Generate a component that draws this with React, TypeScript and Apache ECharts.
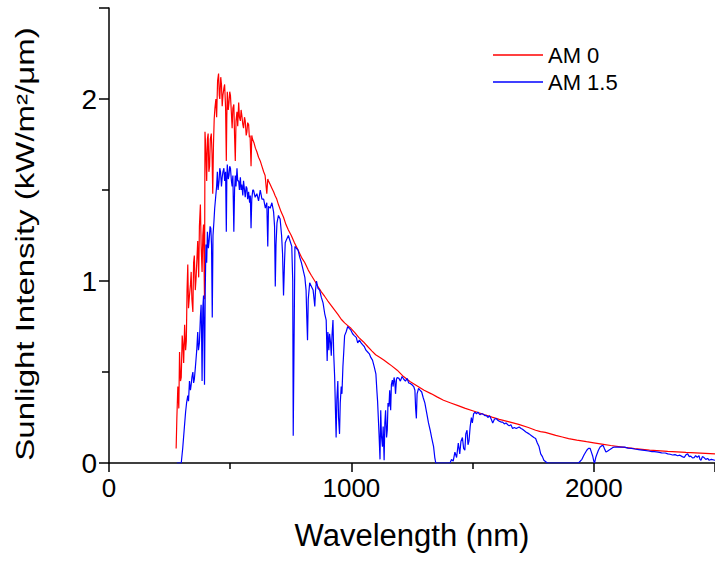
import React, { useEffect, useRef } from "react";
import * as echarts from "echarts";

const FONT = "'Liberation Sans', Arial, Helvetica, sans-serif";

const seriesNames = ["AM 0", "AM 1.5"];
const xTickValues = [0, 1000, 2000];
const yTickValues = [0, 1, 2];

const am0Wavelength = [
  277, 280, 284, 288, 291, 295, 298, 302, 305, 308, 312, 316, 319, 322, 325, 328, 332, 336, 339, 342,
  346, 349, 352, 356, 359, 362, 366, 370, 373, 377, 380, 384, 387, 390, 394, 396, 400, 403, 406, 409,
  412, 415, 418, 422, 425, 428, 431, 434, 437, 441, 444, 448, 452, 455, 457, 461, 464, 467, 470, 474,
  477, 481, 484, 486, 488, 492, 495, 498, 501, 505, 508, 511, 515, 518, 521, 524, 528, 531, 535, 538,
  542, 545, 548, 552, 555, 559, 562, 566, 569, 572, 576, 579, 582, 586, 589, 592, 598, 604, 610, 617,
  624, 631, 638, 644, 651, 655, 658, 665, 672, 679, 685, 692, 699, 710, 720, 730, 740, 752, 765, 780,
  794, 808, 822, 835, 849, 862, 876, 890, 903, 917, 931, 945, 958, 972, 985, 998, 1015, 1030, 1050, 1067,
  1085, 1100, 1118, 1135, 1150, 1165, 1189, 1215, 1243, 1270, 1300, 1330, 1355, 1380, 1410, 1440, 1470, 1500, 1516, 1550,
  1580, 1610, 1651, 1690, 1730, 1760, 1780, 1800, 1843, 1870, 1896, 1930, 1970, 2000, 2033, 2070, 2110, 2169, 2230, 2305,
  2380, 2440, 2500,
];
const am0Value = [
  0.08, 0.25, 0.42, 0.3, 0.61, 0.45, 0.47, 0.7, 0.65, 0.55, 0.76, 0.62, 0.67, 0.95, 1.09, 0.85, 0.92, 0.98, 1.05, 0.9,
  0.83, 1.1, 1.14, 0.95, 1.01, 1.1, 1.22, 1.02, 1.3, 1.42, 1.2, 1.05, 1.25, 1.31, 0.9, 1.82, 1.7, 1.55, 1.78, 1.81,
  1.6, 1.63, 1.78, 1.81, 1.7, 1.48, 1.75, 1.89, 1.95, 2.0, 1.9, 2.1, 2.14, 2.02, 2.0, 2.12, 2.08, 1.96, 2.02, 2.06,
  2.08, 1.95, 1.66, 1.9, 2.04, 1.94, 1.98, 2.04, 2.02, 1.92, 1.84, 1.95, 1.97, 1.8, 1.66, 1.88, 1.93, 1.85, 1.98, 1.9,
  1.88, 1.94, 1.91, 1.86, 1.84, 1.9, 1.88, 1.8, 1.82, 1.87, 1.86, 1.79, 1.8, 1.63, 1.8, 1.78, 1.76, 1.73, 1.71, 1.68,
  1.66, 1.63, 1.6, 1.58, 1.48, 1.56, 1.55, 1.53, 1.51, 1.49, 1.47, 1.45, 1.42, 1.38, 1.35, 1.31, 1.28, 1.25, 1.21, 1.17,
  1.13, 1.1, 1.06, 1.03, 1.0, 0.97, 0.94, 0.915, 0.89, 0.865, 0.84, 0.815, 0.79, 0.77, 0.755, 0.74, 0.715, 0.69, 0.665, 0.64,
  0.615, 0.595, 0.58, 0.565, 0.55, 0.535, 0.51, 0.475, 0.446, 0.425, 0.4, 0.38, 0.362, 0.345, 0.33, 0.315, 0.3, 0.287, 0.28, 0.265,
  0.252, 0.24, 0.226, 0.212, 0.195, 0.18, 0.172, 0.168, 0.152, 0.143, 0.134, 0.126, 0.117, 0.111, 0.104, 0.096, 0.089, 0.079, 0.071, 0.064,
  0.058, 0.054, 0.05,
];

const am15Wavelength = [
  280, 298, 304, 310, 316, 320, 325, 328, 332, 336, 339, 342, 346, 349, 352, 356, 359, 362, 366, 369,
  373, 377, 380, 382, 384, 387, 390, 392, 394, 397, 400, 403, 406, 410, 413, 417, 420, 423, 426, 429,
  433, 436, 440, 444, 447, 450, 454, 457, 460, 464, 467, 470, 474, 477, 481, 484, 486, 488, 492, 495,
  498, 501, 505, 508, 511, 515, 518, 521, 524, 528, 531, 535, 538, 542, 545, 548, 552, 555, 559, 562,
  566, 569, 572, 576, 580, 583, 586, 589, 593, 596, 603, 610, 617, 624, 631, 638, 645, 651, 655, 658,
  665, 672, 679, 683, 686, 689, 693, 699, 706, 712, 716, 720, 724, 727, 733, 740, 747, 754, 758, 760,
  763, 767, 773, 780, 787, 794, 801, 808, 813, 816, 819, 822, 828, 835, 842, 846, 849, 852, 856, 862,
  869, 876, 883, 890, 896, 900, 903, 907, 910, 914, 917, 920, 924, 927, 931, 934, 937, 940, 944, 947,
  951, 954, 958, 961, 965, 968, 972, 978, 985, 991, 998, 1005, 1012, 1020, 1026, 1033, 1040, 1046, 1053, 1060,
  1067, 1074, 1080, 1087, 1094, 1101, 1105, 1108, 1111, 1114, 1118, 1121, 1124, 1128, 1131, 1135, 1138, 1141, 1145, 1148,
  1151, 1155, 1158, 1162, 1165, 1169, 1172, 1176, 1179, 1182, 1186, 1189, 1196, 1202, 1209, 1216, 1223, 1230, 1236, 1243,
  1250, 1257, 1262, 1265, 1268, 1271, 1277, 1283, 1290, 1296, 1303, 1310, 1318, 1325, 1331, 1339, 1344, 1348, 1407, 1413,
  1420, 1427, 1434, 1441, 1447, 1452, 1458, 1463, 1468, 1472, 1477, 1481, 1485, 1490, 1495, 1499, 1504, 1510, 1516, 1522,
  1530, 1536, 1542, 1550, 1556, 1563, 1570, 1577, 1583, 1590, 1597, 1604, 1610, 1617, 1624, 1631, 1638, 1645, 1651, 1658,
  1665, 1672, 1680, 1692, 1700, 1706, 1720, 1733, 1743, 1753, 1760, 1767, 1774, 1781, 1788, 1794, 1808, 1937, 1951, 1960,
  1971, 1978, 1985, 1990, 1995, 2000, 2003, 2008, 2012, 2019, 2026, 2033, 2039, 2045, 2050, 2056, 2062, 2068, 2073, 2080,
  2087, 2100, 2114, 2127, 2141, 2155, 2169, 2185, 2200, 2210, 2225, 2240, 2250, 2265, 2280, 2295, 2305, 2315, 2325, 2335,
  2346, 2355, 2365, 2373, 2380, 2387, 2394, 2400, 2407, 2414, 2420, 2427, 2434, 2438, 2442, 2448, 2455, 2462, 2470, 2475,
  2485, 2500,
];
const am15Value = [
  0, 0, 0.08, 0.18, 0.28, 0.33, 0.37, 0.34, 0.45, 0.4, 0.43, 0.47, 0.5, 0.44, 0.46, 0.52, 0.57, 0.62, 0.72, 0.62,
  0.66, 0.8, 0.87, 0.7, 0.45, 0.85, 0.92, 0.7, 0.43, 0.95, 1.2, 1.1, 1.27, 1.18, 1.22, 1.3, 1.29, 1.2, 0.8, 1.25,
  1.33, 1.4, 1.46, 1.52, 1.6, 1.5, 1.55, 1.62, 1.6, 1.52, 1.57, 1.6, 1.62, 1.55, 1.6, 1.27, 1.55, 1.64, 1.56, 1.58,
  1.63, 1.62, 1.55, 1.52, 1.58, 1.27, 1.5, 1.58, 1.52, 1.62, 1.55, 1.55, 1.5, 1.57, 1.5, 1.53, 1.47, 1.55, 1.5, 1.46,
  1.52, 1.51, 1.45, 1.49, 1.43, 1.47, 1.29, 1.45, 1.5, 1.5, 1.46, 1.48, 1.44, 1.5, 1.45, 1.45, 1.4, 1.43, 1.19, 1.41,
  1.4, 1.43, 1.38, 1.3, 0.97, 1.2, 1.32, 1.36, 1.34, 1.25, 1.15, 0.92, 1.1, 1.21, 1.23, 1.25, 1.22, 1.19, 1.0, 0.15,
  0.6, 1.19, 1.18, 1.17, 1.13, 1.1, 1.06, 1.02, 0.95, 0.8, 0.675, 0.9, 0.99, 0.97, 0.95, 0.9, 0.86, 0.95, 1.0, 0.96,
  0.95, 0.91, 0.88, 0.82, 0.785, 0.56, 0.72, 0.62, 0.71, 0.66, 0.59, 0.7, 0.785, 0.6, 0.47, 0.3, 0.14, 0.35, 0.45, 0.25,
  0.16, 0.33, 0.42, 0.38, 0.53, 0.6, 0.7, 0.72, 0.75, 0.74, 0.73, 0.71, 0.7, 0.69, 0.66, 0.675, 0.66, 0.65, 0.64, 0.62,
  0.61, 0.6, 0.58, 0.565, 0.53, 0.49, 0.4, 0.34, 0.25, 0.16, 0.02, 0.29, 0.15, 0.09, 0.2, 0.015, 0.22, 0.29, 0.14, 0.18,
  0.33, 0.31, 0.4, 0.29, 0.43, 0.455, 0.42, 0.47, 0.45, 0.38, 0.46, 0.47, 0.465, 0.45, 0.475, 0.46, 0.45, 0.465, 0.44, 0.437,
  0.43, 0.42, 0.4, 0.3, 0.245, 0.38, 0.41, 0.4, 0.39, 0.36, 0.33, 0.28, 0.22, 0.18, 0.14, 0.09, 0.03, 0, 0, 0.02,
  0.01, 0.06, 0.03, 0.11, 0.05, 0.12, 0.14, 0.08, 0.07, 0.16, 0.18, 0.1, 0.12, 0.2, 0.25, 0.22, 0.27, 0.28, 0.27, 0.28,
  0.265, 0.27, 0.27, 0.26, 0.262, 0.25, 0.26, 0.24, 0.22, 0.24, 0.245, 0.235, 0.23, 0.225, 0.225, 0.215, 0.22, 0.21, 0.205, 0.21,
  0.19, 0.195, 0.19, 0.198, 0.19, 0.185, 0.17, 0.16, 0.15, 0.14, 0.135, 0.11, 0.09, 0.05, 0.035, 0.015, 0, 0, 0.02, 0.045,
  0.07, 0.08, 0.08, 0.06, 0.04, 0.01, 0, 0.03, 0.045, 0.07, 0.088, 0.095, 0.095, 0.075, 0.06, 0.065, 0.07, 0.075, 0.08, 0.086,
  0.088, 0.087, 0.088, 0.087, 0.082, 0.08, 0.077, 0.074, 0.071, 0.069, 0.066, 0.063, 0.062, 0.06, 0.056, 0.055, 0.05, 0.048, 0.044, 0.046,
  0.04, 0.043, 0.035, 0.03, 0.045, 0.05, 0.035, 0.038, 0.028, 0.03, 0.04, 0.032, 0.04, 0.02, 0.015, 0.035, 0.03, 0.02, 0.025, 0.015,
  0.02, 0.015,
];

const xTitle = "Wavelength (nm)";
const yTitle = "Sunlight Intensity (kW/m²/μm)";

export default function App() {
  const ref = useRef<HTMLDivElement>(null);
  useEffect(() => {
    if (!ref.current) return;
    const chart = echarts.init(ref.current, null, { renderer: "svg" });
    const am0Data = am0Wavelength.map((w, i) => [w, am0Value[i]]);
    const am15Data = am15Wavelength.map((w, i) => [w, am15Value[i]]);
    chart.setOption({
      animation: false,
      backgroundColor: "#ffffff",
      grid: { left: 109, right: -6, top: 8, bottom: 99 },
      legend: {
        orient: "vertical",
        left: 488,
        top: 39,
        padding: 5,
        icon: "rect",
        itemWidth: 50,
        itemHeight: 1.5,
        itemGap: 5,
        data: seriesNames,
        textStyle: { fontSize: 22, color: "#000", fontFamily: FONT, lineHeight: 22 },
      },
      xAxis: {
        type: "value",
        min: 0,
        max: 2500,
        interval: 1000,
        name: xTitle,
        nameLocation: "middle",
        nameGap: 57,
        nameTextStyle: { fontSize: 31, color: "#000", fontFamily: FONT },
        axisLine: { show: true, onZero: false, lineStyle: { color: "#000", width: 1.5 } },
        axisTick: { show: true, inside: false, length: 9, lineStyle: { color: "#000", width: 1.5 } },
        minorTick: { show: true, splitNumber: 2, length: 6, lineStyle: { color: "#000", width: 1.5 } },
        splitLine: { show: false },
        axisLabel: {
          fontSize: 26,
          color: "#000",
          fontFamily: FONT,
          margin: 12,
          showMaxLabel: false,
          formatter: (v: number) => (xTickValues.includes(v) ? String(v) : ""),
        },
      },
      yAxis: {
        type: "value",
        min: 0,
        max: 2.5,
        interval: 1,
        axisLine: { show: true, lineStyle: { color: "#000", width: 1.5 } },
        axisTick: { show: true, inside: false, length: 10, lineStyle: { color: "#000", width: 1.5 } },
        minorTick: { show: true, splitNumber: 2, length: 7, lineStyle: { color: "#000", width: 1.5 } },
        splitLine: { show: false },
        axisLabel: {
          fontSize: 28,
          color: "#000",
          fontFamily: FONT,
          margin: 12,
          showMaxLabel: false,
          formatter: (v: number) => (yTickValues.includes(v) ? String(v) : ""),
        },
      },
      graphic: [
        {
          type: "text",
          x: 25,
          y: 244,
          rotation: Math.PI / 2,
          scaleX: 1.27,
          scaleY: 1,
          style: {
            text: yTitle,
            fontSize: 26,
            fontFamily: FONT,
            fill: "#000",
            align: "center",
            verticalAlign: "middle",
          },
        },
      ],
      series: [
        {
          name: seriesNames[0],
          type: "line",
          data: am0Data,
          symbol: "none",
          lineStyle: { color: "#ff0000", width: 1.2 },
          itemStyle: { color: "#ff0000" },
          z: 2,
        },
        {
          name: seriesNames[1],
          type: "line",
          data: am15Data,
          symbol: "none",
          lineStyle: { color: "#0000ff", width: 1.2 },
          itemStyle: { color: "#0000ff" },
          z: 3,
        },
      ],
    });
    return () => chart.dispose();
  }, []);
  return (
    <div
      ref={ref}
      style={{ position: "fixed", left: 0, top: 0, width: 715, height: 562, background: "#fff" }}
    />
  );
}
